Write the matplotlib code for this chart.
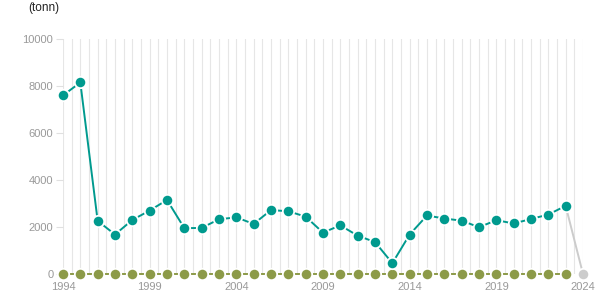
import matplotlib
matplotlib.use("Agg")
import matplotlib.pyplot as plt
import numpy as np

plt.rcParams['font.family'] = ['Liberation Sans', 'DejaVu Sans']

years = list(range(1994, 2024))
tonn = [7600, 8150, 2260, 1680, 2300, 2700, 3150, 1950, 1960, 2330,
        2410, 2130, 2720, 2670, 2440, 1760, 2070, 1630, 1360, 460,
        1680, 2490, 2360, 2270, 1990, 2290, 2150, 2340, 2530, 2900]
other = [0] * len(years)
last_year = 2024
last_value = 0

teal = '#009a8e'
olive = '#8c9a48'
grey = '#cccccc'
label_grey = '#999999'

fig = plt.figure(figsize=(6.15, 3.05), dpi=100)
ax = fig.add_axes([63 / 615, 31 / 305, 520 / 615, 235 / 305])

# vertical grid every half year
for gx in np.arange(1994, 2024.01, 0.5):
    ax.axvline(gx, color='#e6e6e6', lw=0.8, zorder=0)

mk = dict(marker='o', markersize=8.2, markeredgecolor='white', markeredgewidth=1.3)

ax.plot(years, other, color=olive, lw=1.4, clip_on=False, zorder=2, **mk)
ax.plot([years[-1], last_year], [tonn[-1], last_value], color=grey, lw=1.4, zorder=2)
ax.plot([last_year], [last_value], color=grey, clip_on=False, zorder=2, **mk)
ax.plot(years, tonn, color=teal, lw=1.4, clip_on=False, zorder=2, **mk)

ax.set_xlim(1994, 2024)
ax.set_ylim(0, 10000)
ax.set_xticks(range(1994, 2025, 5))
ax.set_yticks(range(0, 10001, 2000))

for s in ax.spines.values():
    s.set_visible(False)

ax.tick_params(axis='x', direction='in', length=3.5, width=1, color='white',
               labelcolor=label_grey, labelsize=8, pad=6)
ax.tick_params(axis='y', direction='out', length=5, width=0.8, color='#e0e0e0',
               labelcolor=label_grey, labelsize=8, pad=2)

fig.text(28 / 615, 1 - 8 / 305, '(tonn)', fontsize=8.5, color='#222222', va='center', ha='left')

fig.savefig('out.png', dpi=100)
